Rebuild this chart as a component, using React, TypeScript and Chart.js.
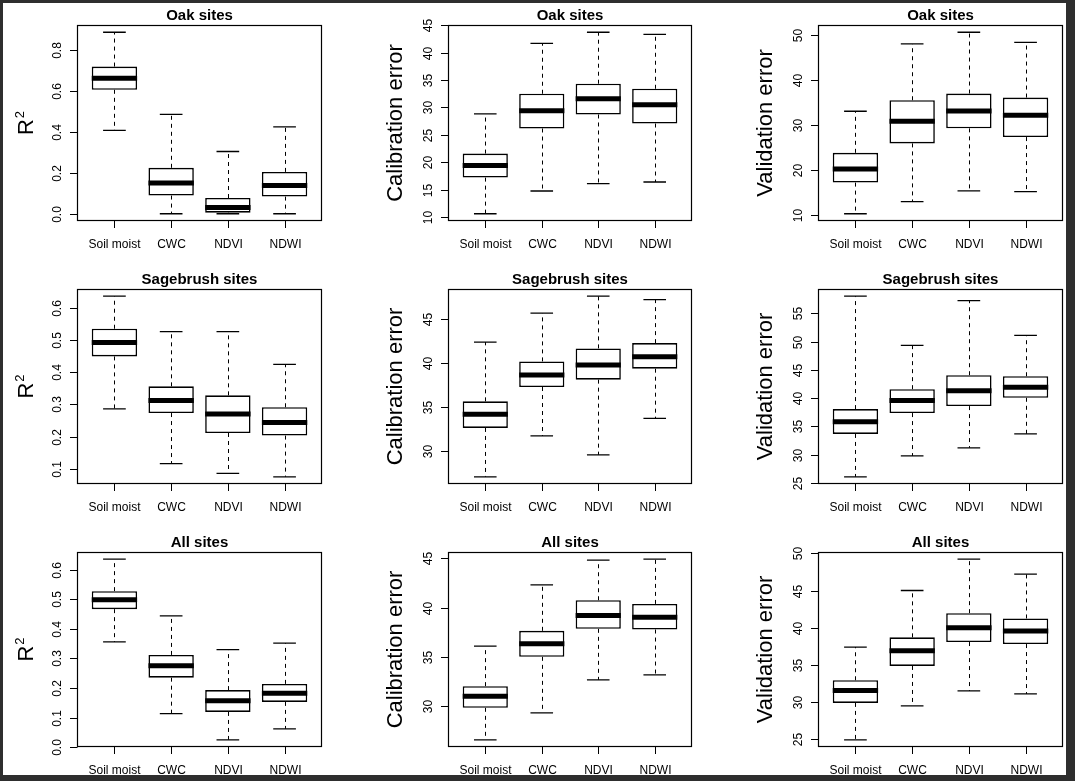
import React, { useEffect, useRef } from "react";
import { Chart, registerables } from "chart.js";

Chart.register(...registerables);

// ---------- data ----------
const categories = ["Soil moist", "CWC", "NDVI", "NDWI"];

// each entry: [lower whisker, Q1, median, Q3, upper whisker]
const oakR2 = [
  [0.408, 0.607, 0.664, 0.721, 0.889],
  [0.0, 0.089, 0.151, 0.225, 0.487],
  [0.0, 0.005, 0.03, 0.077, 0.305],
  [0.0, 0.084, 0.138, 0.205, 0.426],
];
const oakCal = [
  [10.61, 17.2, 19.39, 21.59, 28.84],
  [14.76, 26.16, 29.39, 32.5, 41.7],
  [16.1, 28.72, 31.59, 34.33, 43.72],
  [16.4, 27.07, 30.49, 33.41, 43.35],
];
const oakVal = [
  [10.22, 17.16, 20.22, 23.8, 33.06],
  [12.91, 25.9, 30.82, 35.52, 48.06],
  [15.3, 29.25, 33.13, 37.01, 50.67],
  [15.15, 27.31, 32.16, 36.12, 48.43],
];
const sageR2 = [
  [0.286, 0.449, 0.492, 0.535, 0.636],
  [0.116, 0.273, 0.312, 0.356, 0.526],
  [0.0856, 0.211, 0.27, 0.328, 0.526],
  [0.075, 0.203, 0.244, 0.291, 0.424],
];
const sageCal = [
  [27.05, 32.61, 34.17, 35.64, 42.39],
  [31.7, 37.27, 38.64, 40.19, 45.68],
  [29.55, 38.11, 39.77, 41.67, 47.61],
  [33.71, 39.36, 40.72, 42.27, 47.23],
];
const sageVal = [
  [26.06, 33.65, 35.82, 38.06, 58.06],
  [29.76, 37.35, 39.59, 41.59, 49.35],
  [31.18, 38.59, 41.29, 44.06, 57.29],
  [33.65, 40.06, 41.94, 43.88, 51.12],
];
const allR2 = [
  [0.356, 0.467, 0.499, 0.528, 0.636],
  [0.113, 0.235, 0.275, 0.312, 0.444],
  [0.0248, 0.119, 0.157, 0.193, 0.33],
  [0.062, 0.153, 0.182, 0.214, 0.352],
];
const allCal = [
  [26.59, 29.83, 31.01, 32.03, 36.08],
  [29.32, 35.0, 36.32, 37.64, 42.3],
  [32.67, 37.84, 39.19, 40.74, 44.8],
  [33.18, 37.77, 39.02, 40.37, 44.9],
];
const allVal = [
  [24.96, 29.91, 31.56, 32.95, 37.41],
  [29.51, 34.87, 36.92, 38.71, 45.0],
  [31.52, 38.08, 40.0, 41.96, 49.2],
  [31.12, 37.81, 39.55, 41.25, 47.19],
];

// tick labels
const ticksOakR2 = ["0.0", "0.2", "0.4", "0.6", "0.8"];
const ticksOakCal = ["10", "15", "20", "25", "30", "35", "40", "45"];
const ticksOakVal = ["10", "20", "30", "40", "50"];
const ticksSageR2 = ["0.1", "0.2", "0.3", "0.4", "0.5", "0.6"];
const ticksSageCal = ["30", "35", "40", "45"];
const ticksSageVal = ["25", "30", "35", "40", "45", "50", "55"];
const ticksAllR2 = ["0.0", "0.1", "0.2", "0.3", "0.4", "0.5", "0.6"];
const ticksAllCal = ["30", "35", "40", "45"];
const ticksAllVal = ["25", "30", "35", "40", "45", "50"];

const rowTitles = ["Oak sites", "Sagebrush sites", "All sites"];
const colLabels = ["R2", "Calibration error", "Validation error"];

const panelStats = [
  [oakR2, oakCal, oakVal],
  [sageR2, sageCal, sageVal],
  [allR2, allCal, allVal],
];
const panelTicks = [
  [ticksOakR2, ticksOakCal, ticksOakVal],
  [ticksSageR2, ticksSageCal, ticksSageVal],
  [ticksAllR2, ticksAllCal, ticksAllVal],
];

// ---------- layout ----------
const PLOT_LEFT = [77, 448, 818];
const PLOT_RIGHT = [322, 692, 1063];
const PLOT_TOP = [25, 289, 552];
const PLOT_BOTTOM = [221, 484, 747];
const CELL_X = [3, 360, 715];
const CELL_Y = [3, 262, 522];
const CELL_W = 355;
const CELL_H = 258;

const FONT = "'Liberation Sans', Arial, Helvetica, sans-serif";

const rboxPlugin = {
  id: "rbox",
  beforeDatasetsDraw(chart: any, _args: any, opts: any) {
    const { ctx } = chart;
    const ys = chart.scales.y;
    const meta = chart.getDatasetMeta(0);
    const stats: number[][] = opts.stats;
    ctx.save();
    ctx.strokeStyle = "#000";
    meta.data.forEach((bar: any, i: number) => {
      const s = stats[i];
      const x = Math.round(bar.x) + 0.5;
      const cap = bar.width * 0.5;
      ctx.lineWidth = 1;
      ctx.setLineDash([4, 4]);
      ctx.beginPath();
      ctx.moveTo(x, ys.getPixelForValue(s[3]));
      ctx.lineTo(x, ys.getPixelForValue(s[4]));
      ctx.moveTo(x, ys.getPixelForValue(s[1]));
      ctx.lineTo(x, ys.getPixelForValue(s[0]));
      ctx.stroke();
      ctx.setLineDash([]);
      ctx.lineWidth = 1.3;
      ctx.beginPath();
      const yt = ys.getPixelForValue(s[4]);
      const yb = ys.getPixelForValue(s[0]);
      ctx.moveTo(bar.x - cap / 2, yt);
      ctx.lineTo(bar.x + cap / 2, yt);
      ctx.moveTo(bar.x - cap / 2, yb);
      ctx.lineTo(bar.x + cap / 2, yb);
      ctx.stroke();
    });
    ctx.restore();
  },
  afterDatasetsDraw(chart: any, _args: any, opts: any) {
    const { ctx } = chart;
    const ys = chart.scales.y;
    const meta = chart.getDatasetMeta(0);
    const stats: number[][] = opts.stats;
    ctx.save();
    ctx.strokeStyle = "#000";
    ctx.lineWidth = 5;
    ctx.lineCap = "butt";
    meta.data.forEach((bar: any, i: number) => {
      const ym = ys.getPixelForValue(stats[i][2]);
      ctx.beginPath();
      ctx.moveTo(bar.x - bar.width / 2, ym);
      ctx.lineTo(bar.x + bar.width / 2, ym);
      ctx.stroke();
    });
    ctx.restore();
  },
  afterDraw(chart: any, _args: any, opts: any) {
    const { ctx, chartArea } = chart;
    const { left, right, top, bottom } = chartArea;
    const xs = chart.scales.x;
    const ys = chart.scales.y;
    ctx.save();
    ctx.strokeStyle = "#000";
    ctx.fillStyle = "#000";
    // frame
    ctx.lineWidth = 1.2;
    ctx.strokeRect(left + 0.5, top + 0.5, right - left - 1, bottom - top - 1);
    // y ticks
    ctx.lineWidth = 1;
    ctx.font = `12px ${FONT}`;
    (opts.tickLabels as string[]).forEach((lab) => {
      const py = Math.round(ys.getPixelForValue(Number(lab))) + 0.5;
      ctx.beginPath();
      ctx.moveTo(left - 7, py);
      ctx.lineTo(left + 0.5, py);
      ctx.stroke();
      ctx.save();
      ctx.translate(left - 16.5, py);
      ctx.rotate(-Math.PI / 2);
      ctx.textAlign = "center";
      ctx.textBaseline = "alphabetic";
      ctx.fillText(lab, 0, 0);
      ctx.restore();
    });
    // x ticks + labels
    ctx.textAlign = "center";
    ctx.textBaseline = "alphabetic";
    categories.forEach((c, i) => {
      const px = Math.round(xs.getPixelForValue(i + 1)) + 0.5;
      ctx.beginPath();
      ctx.moveTo(px, bottom - 0.5);
      ctx.lineTo(px, bottom + 7);
      ctx.stroke();
      ctx.fillText(c, px, bottom + 27);
    });
    // title
    ctx.font = `bold 15px ${FONT}`;
    ctx.textBaseline = "middle";
    ctx.fillText(opts.title, (left + right) / 2, top - 9.5);
    // y axis label
    const cy = (top + bottom) / 2;
    ctx.save();
    ctx.textBaseline = "alphabetic";
    if (opts.ylab === "R2") {
      ctx.translate(left - 44, cy);
      ctx.rotate(-Math.PI / 2);
      ctx.font = `22px ${FONT}`;
      const wR = ctx.measureText("R").width;
      ctx.font = `13px ${FONT}`;
      const w2 = ctx.measureText("2").width;
      const start = -(wR + w2 + 1) / 2;
      ctx.textAlign = "left";
      ctx.font = `22px ${FONT}`;
      ctx.fillText("R", start, 0);
      ctx.font = `13px ${FONT}`;
      ctx.fillText("2", start + wR + 1, -9.5);
    } else {
      ctx.translate(left - 46, cy);
      ctx.rotate(-Math.PI / 2);
      ctx.font = `22px ${FONT}`;
      ctx.textAlign = "center";
      ctx.fillText(opts.ylab, 0, 0);
    }
    ctx.restore();
    ctx.restore();
  },
};

function Panel({ row, col }: { row: number; col: number }) {
  const ref = useRef<HTMLCanvasElement | null>(null);
  useEffect(() => {
    const stats = panelStats[row][col];
    const tickLabels = panelTicks[row][col];
    const lo = Math.min(...stats.map((s) => s[0]));
    const hi = Math.max(...stats.map((s) => s[4]));
    const ext = (hi - lo) * 0.04;
    const n = categories.length;
    const xMin = 0.5 - 0.04 * n;
    const xMax = n + 0.5 + 0.04 * n;
    const padding = {
      left: PLOT_LEFT[col] - CELL_X[col],
      right: CELL_X[col] + CELL_W - PLOT_RIGHT[col],
      top: PLOT_TOP[row] - CELL_Y[row],
      bottom: CELL_Y[row] + CELL_H - PLOT_BOTTOM[row],
    };
    const chart = new Chart(ref.current as HTMLCanvasElement, {
      type: "bar",
      data: {
        datasets: [
          {
            data: stats.map((s, i) => ({ x: i + 1, y: [s[1], s[3]] })) as any,
            backgroundColor: "#ffffff",
            borderColor: "#000000",
            borderWidth: 1.6,
            borderSkipped: false,
            barPercentage: 0.8,
            categoryPercentage: 1,
          },
        ],
      },
      options: {
        animation: false,
        responsive: false,
        devicePixelRatio: 1,
        events: [],
        layout: { padding },
        scales: {
          x: {
            type: "linear",
            display: false,
            offset: false,
            min: xMin,
            max: xMax,
            afterBuildTicks: (s: any) => {
              s.ticks = categories.map((_, i) => ({ value: i + 1 }));
            },
          },
          y: {
            type: "linear",
            display: false,
            offset: false,
            min: lo - ext,
            max: hi + ext,
            afterBuildTicks: (s: any) => {
              s.ticks = tickLabels.map((t) => ({ value: Number(t) }));
            },
          },
        },
        plugins: {
          legend: { display: false },
          tooltip: { enabled: false },
          title: { display: false },
          rbox: {
            stats,
            tickLabels,
            title: rowTitles[row],
            ylab: colLabels[col],
          },
        } as any,
      },
      plugins: [rboxPlugin as any],
    });
    return () => chart.destroy();
  }, [row, col]);
  return (
    <canvas
      ref={ref}
      width={CELL_W}
      height={CELL_H}
      style={{
        position: "absolute",
        left: CELL_X[col],
        top: CELL_Y[row],
        width: CELL_W,
        height: CELL_H,
      }}
    />
  );
}

export default function App() {
  const cells: { row: number; col: number }[] = [];
  for (let r = 0; r < 3; r++) for (let c = 0; c < 3; c++) cells.push({ row: r, col: c });
  return (
    <div
      style={{
        position: "fixed",
        left: 0,
        top: 0,
        width: 1075,
        height: 781,
        background: "#2e2e2e",
        overflow: "hidden",
      }}
    >
      <div
        style={{
          position: "absolute",
          left: 3,
          top: 3,
          width: 1063,
          height: 772,
          background: "#ffffff",
        }}
      />
      {cells.map((c) => (
        <Panel key={`${c.row}-${c.col}`} row={c.row} col={c.col} />
      ))}
    </div>
  );
}
